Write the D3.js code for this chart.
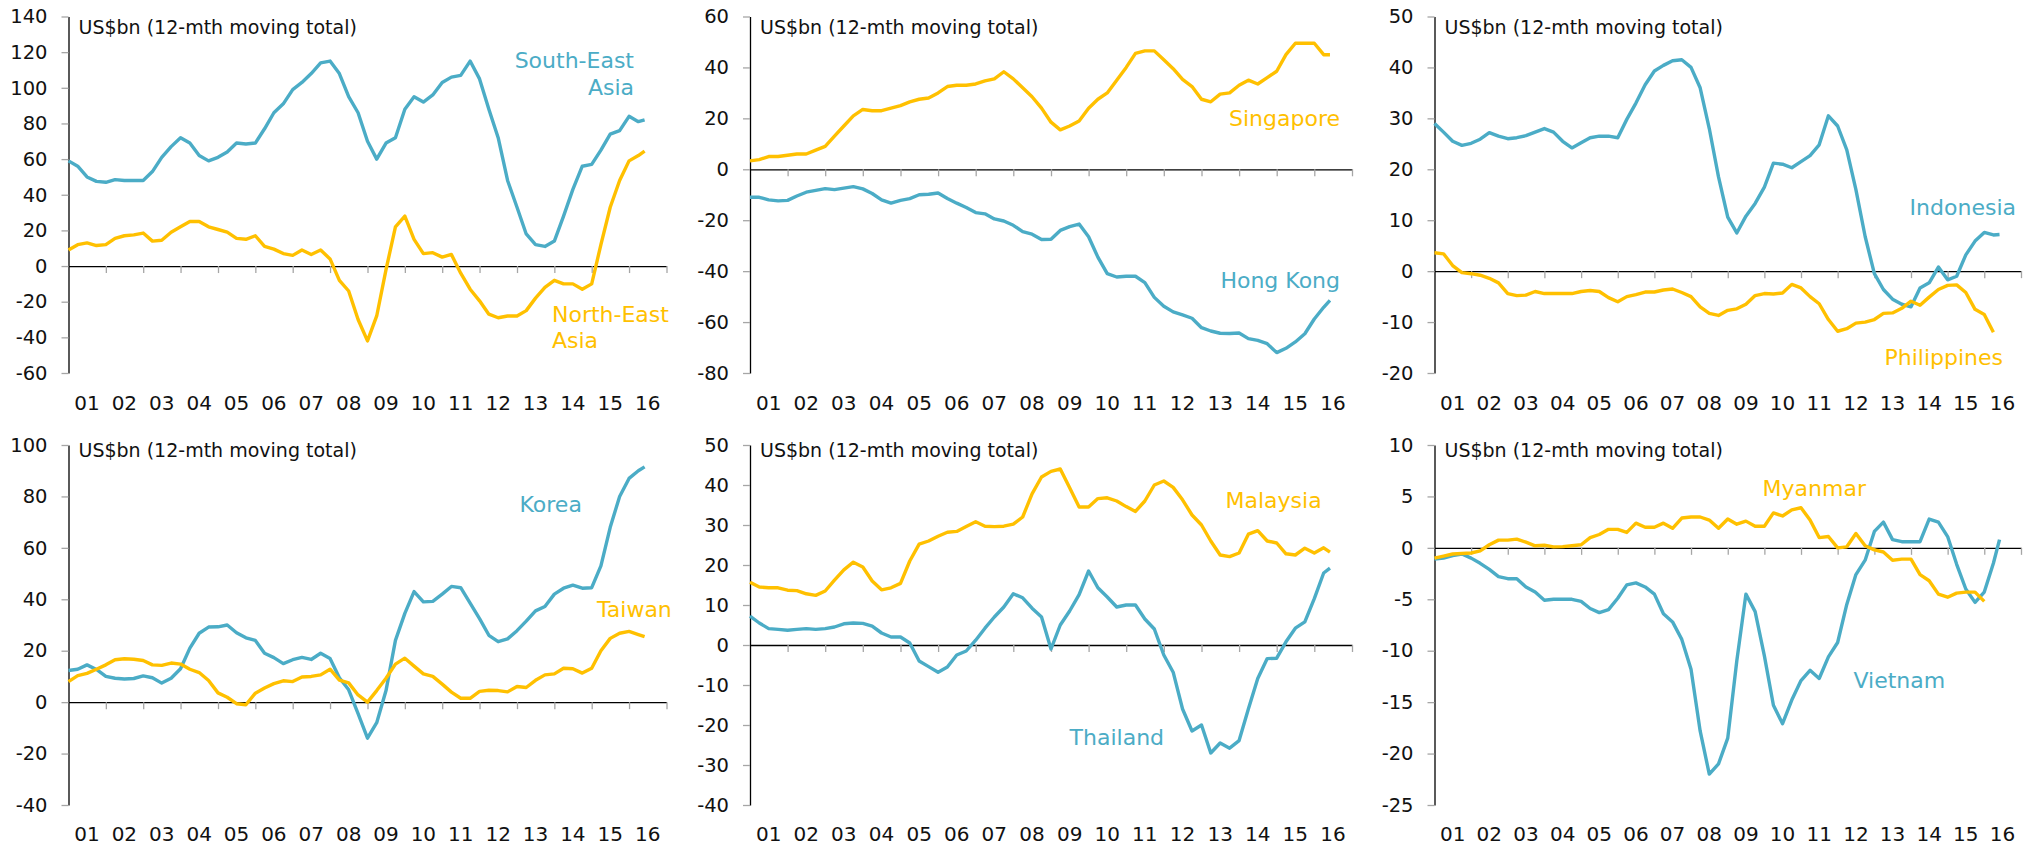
<!DOCTYPE html>
<html>
<head>
<meta charset="utf-8">
<script src="https://d3js.org/d3.v7.min.js"></script>
<style>
  body { margin: 0; background: #fff; }
  svg text { font-family: "DejaVu Sans", sans-serif; }
</style>
</head>
<body>
<svg id="chart" width="2034" height="849"></svg>
<script>
const BLUE = "#4bacc6"
const GOLD = "#ffc000"

// one point every quarter from Jan 2001, last reading June 2016
const dates = d3.timeMonth.every(3).range(new Date(2001, 0, 1), new Date(2016, 4, 1))
dates.push(new Date(2016, 5, 1))

const yearLabels = ["01", "02", "03", "04", "05", "06", "07", "08", "09", "10", "11", "12", "13", "14", "15", "16"]
const unitLabel = "US$bn (12-mth moving total)"

// US$bn, 12-month moving totals
const southEastAsia = [59, 56, 50, 47.5, 47, 48.5, 48, 48, 48, 53, 61, 67, 72, 69, 62, 59, 61, 64, 69, 68.5, 69, 77, 86, 91, 99, 103, 108, 114, 115, 108, 95, 86, 70, 60, 69, 72, 88, 95, 92, 96, 103, 106, 107, 115, 105, 88, 72, 48, 33, 18, 12, 11, 14, 28, 43, 56, 57, 65, 74, 76, 84, 81, 82]
const northEastAsia = [9, 12, 13, 11.5, 12, 15.5, 17, 17.5, 18.5, 14, 14.5, 19, 22, 25, 25, 22, 20.5, 19, 15.5, 15, 17, 11, 9.5, 7, 6, 9, 6.5, 9, 4, -8, -14, -30, -42, -28, -2, 22, 28, 15, 7, 7.5, 5, 6.5, -4, -13, -19.5, -27, -29, -28, -28, -25, -18, -12, -8, -10, -10, -13, -10, 12, 33, 48, 59, 62, 64.5]
const singapore = [3.3, 3.8, 5, 5, 5.5, 6, 6, 7.5, 9, 13, 17, 21, 23.5, 23, 23, 24, 25, 26.5, 27.5, 28, 30, 32.5, 33, 33, 33.5, 34.7, 35.5, 38.3, 35.5, 32, 28.5, 24, 18.5, 15.5, 17, 19, 24, 27.5, 30, 35, 40, 45.5, 46.5, 46.5, 43, 39.5, 35.3, 32.5, 27.5, 26.5, 29.5, 30, 33, 35, 33.5, 36, 38.5, 45, 49.5, 49.5, 49.5, 45, 45]
const hongKong = [-11, -11, -12, -12.4, -12.2, -10.5, -9, -8.3, -7.6, -8, -7.4, -6.8, -7.7, -9.5, -12, -13.3, -12.2, -11.5, -10, -9.8, -9.3, -11.5, -13.3, -15, -17, -17.5, -19.5, -20.3, -22, -24.5, -25.5, -27.6, -27.5, -24, -22.5, -21.5, -26.5, -34.5, -41, -42.3, -42, -42, -44.5, -50.3, -53.8, -56, -57.2, -58.5, -62.2, -63.5, -64.4, -64.5, -64.3, -66.5, -67.2, -68.5, -72, -70.3, -67.8, -64.6, -58.8, -54.2, -51.5]
const indonesia = [29, 27.3, 25.5, 24.7, 25.1, 25.9, 27.2, 26.5, 26, 26.2, 26.6, 27.3, 28, 27.3, 25.5, 24.2, 25.2, 26.2, 26.5, 26.5, 26.2, 29.8, 33, 36.6, 39.3, 40.4, 41.3, 41.5, 40, 36, 28, 18.5, 10.6, 7.5, 10.8, 13.3, 16.5, 21.2, 21, 20.3, 21.5, 22.7, 24.8, 30.5, 28.5, 23.8, 16, 6.8, -0.5, -3.6, -5.5, -6.5, -7, -3.3, -2.3, 0.8, -1.7, -1, 3.2, 5.9, 7.6, 7.1, 7.2]
const philippines = [3.6, 3.4, 1.1, -0.3, -0.5, -0.8, -1.4, -2.3, -4.4, -4.8, -4.7, -4, -4.4, -4.4, -4.4, -4.4, -4, -3.8, -4, -5.2, -6, -5, -4.6, -4.1, -4.1, -3.7, -3.5, -4.2, -5, -7, -8.3, -8.7, -7.7, -7.4, -6.5, -4.8, -4.4, -4.5, -4.3, -2.6, -3.3, -5, -6.4, -9.5, -11.8, -11.3, -10.2, -10, -9.5, -8.3, -8.2, -7.3, -5.9, -6.7, -5.1, -3.6, -2.8, -2.7, -4.2, -7.5, -8.5, -12, null]
const korea = [12.3, 12.8, 14.5, 12.7, 10, 9.3, 9, 9.2, 10.2, 9.5, 7.4, 9.3, 13, 21, 26.8, 29.2, 29.3, 30, 27, 25, 24, 19, 17.3, 15, 16.5, 17.4, 16.6, 19, 17, 9.5, 4.8, -4.5, -14, -8, 4.5, 24, 34.5, 43, 39, 39.2, 42, 45, 44.5, 38.5, 32.5, 26, 23.5, 24.6, 27.8, 31.5, 35.5, 37.2, 42, 44.3, 45.5, 44.3, 44.5, 53, 68, 80, 87, 90, 91.5]
const taiwan = [8, 10.3, 11.2, 12.8, 14.5, 16.5, 16.9, 16.7, 16.2, 14.5, 14.3, 15.2, 14.8, 12.8, 11.5, 8.4, 3.6, 1.9, -0.6, -1, 3.5, 5.5, 7.2, 8.3, 8, 9.8, 10, 10.6, 12.8, 8.6, 7.5, 2.8, 0, 4.5, 9.3, 14.8, 17.1, 14, 11, 10, 7, 3.9, 1.5, 1.5, 4.2, 4.6, 4.5, 4, 6.1, 5.7, 8.5, 10.6, 11, 13.2, 13, 11.3, 13.2, 20, 24.8, 26.8, 27.5, 26.3, 25.5]
const malaysia = [15.7, 14.5, 14.3, 14.3, 13.7, 13.6, 12.8, 12.4, 13.5, 16.2, 18.8, 20.7, 19.5, 16, 13.8, 14.3, 15.4, 21, 25.2, 26, 27.2, 28.2, 28.4, 29.6, 30.8, 29.7, 29.6, 29.7, 30.2, 32, 37.8, 42, 43.4, 44, 39.3, 34.5, 34.5, 36.6, 36.8, 36, 34.6, 33.4, 36, 40, 41, 39.4, 36.3, 32.5, 30, 26, 22.5, 22.1, 23, 27.7, 28.6, 26, 25.5, 22.8, 22.5, 24.2, 23, 24.3, 23.2]
const thailand = [7.2, 5.5, 4.1, 3.9, 3.7, 3.9, 4.1, 3.9, 4.1, 4.5, 5.3, 5.5, 5.4, 4.7, 3, 2, 2, 0.5, -4, -5.4, -6.8, -5.5, -2.5, -1.5, 1.2, 4.2, 7, 9.5, 12.8, 11.8, 9.2, 7, -1, 5, 8.5, 12.6, 18.5, 14.3, 12, 9.5, 10, 10, 6.5, 4, -2.5, -6.8, -16, -21.5, -20, -27, -24.5, -25.8, -23.9, -16, -8.4, -3.4, -3.3, 0.8, 4.2, 5.8, 11.6, 18, 19.2]
const myanmar = [-1, -0.8, -0.6, -0.55, -0.5, -0.3, 0.3, 0.75, 0.75, 0.85, 0.55, 0.2, 0.25, 0.1, 0.12, 0.2, 0.3, 1, 1.3, 1.8, 1.8, 1.5, 2.4, 2, 2, 2.4, 1.9, 2.9, 3, 3, 2.7, 1.9, 2.8, 2.3, 2.6, 2.1, 2.1, 3.4, 3.1, 3.7, 3.9, 2.7, 1, 1.1, 0, 0.1, 1.4, 0.2, -0.2, -0.4, -1.2, -1.1, -1.1, -2.6, -3.2, -4.5, -4.8, -4.4, -4.3, -4.3, -5.2, null, null]
const vietnam = [-1.1, -1, -0.75, -0.6, -1, -1.5, -2.1, -2.8, -3, -3, -3.8, -4.3, -5.1, -5, -5, -5, -5.2, -5.9, -6.3, -6, -4.9, -3.6, -3.4, -3.8, -4.5, -6.4, -7.2, -8.9, -11.8, -17.8, -22, -21, -18.5, -11, -4.5, -6.2, -10.5, -15.3, -17.1, -14.8, -12.9, -11.9, -12.7, -10.6, -9.2, -5.5, -2.6, -1.2, 1.6, 2.5, 0.8, 0.6, 0.6, 0.6, 2.8, 2.5, 1.1, -1.6, -4, -5.3, -4.3, -1.5, 0.8]

// y ticks per panel
const ticks1 = [140, 120, 100, 80, 60, 40, 20, 0, -20, -40, -60]
const ticks2 = [60, 40, 20, 0, -20, -40, -60, -80]
const ticks3 = [50, 40, 30, 20, 10, 0, -10, -20]
const ticks4 = [100, 80, 60, 40, 20, 0, -20, -40]
const ticks5 = [50, 40, 30, 20, 10, 0, -10, -20, -30, -40]
const ticks6 = [10, 5, 0, -5, -10, -15, -20, -25]

const ROWS = [
  { top: 16.5, bottom: 373, labelY: 410, titleY: 33.5 },
  { top: 445, bottom: 805, labelY: 841, titleY: 457 }
]
const COLS = [[68.5, 666.5], [750, 1352], [1434.5, 2021]]

const panels = [
  { row: 0, col: 0, ticks: ticks1,
    series: [[southEastAsia, BLUE], [northEastAsia, GOLD]],
    names: [["South-East", 634, 68, "end", BLUE], ["Asia", 634, 95, "end", BLUE],
            ["North-East", 552, 322, "start", GOLD], ["Asia", 552, 348, "start", GOLD]] },
  { row: 0, col: 1, ticks: ticks2,
    series: [[hongKong, BLUE], [singapore, GOLD]],
    names: [["Singapore", 1340, 126, "end", GOLD], ["Hong Kong", 1340, 288, "end", BLUE]] },
  { row: 0, col: 2, ticks: ticks3,
    series: [[indonesia, BLUE], [philippines, GOLD]],
    names: [["Indonesia", 2016, 215, "end", BLUE], ["Philippines", 2003, 365, "end", GOLD]] },
  { row: 1, col: 0, ticks: ticks4,
    series: [[korea, BLUE], [taiwan, GOLD]],
    names: [["Korea", 519.5, 512, "start", BLUE], ["Taiwan", 597, 617, "start", GOLD]] },
  { row: 1, col: 1, ticks: ticks5,
    series: [[thailand, BLUE], [malaysia, GOLD]],
    names: [["Malaysia", 1225.5, 508, "start", GOLD], ["Thailand", 1069.6, 745, "start", BLUE]] },
  { row: 1, col: 2, ticks: ticks6,
    series: [[vietnam, BLUE], [myanmar, GOLD]],
    names: [["Myanmar", 1762.6, 496, "start", GOLD], ["Vietnam", 1853.5, 688, "start", BLUE]] }
]

const svg = d3.select("#chart")

panels.forEach(p => {
  const row = ROWS[p.row]
  const [x0, x1] = COLS[p.col]
  const g = svg.append("g")

  const x = d3.scaleTime()
    .domain([new Date(2001, 0, 1), new Date(2017, 0, 1)])
    .range([x0, x1])
  const y = d3.scaleLinear()
    .domain(d3.extent(p.ticks))
    .range([row.bottom, row.top])

  // y axis, plain hyphen for negatives like the original
  const yAxis = g.append("g")
    .attr("transform", `translate(${x0},0)`)
    .call(d3.axisLeft(y).tickValues(p.ticks).tickFormat(d => String(d))
      .tickSize(7).tickSizeOuter(0).tickPadding(14))
  yAxis.select(".domain").attr("stroke", "#000").attr("stroke-width", 1.3)
  yAxis.selectAll(".tick line").attr("stroke", "#a6a6a6").attr("stroke-width", 1.3)
  yAxis.selectAll(".tick text")
    .attr("font-size", 19.5).attr("font-family", "DejaVu Sans").attr("fill", "#111")

  // zero line with year separators
  const xAxis = g.append("g")
    .attr("transform", `translate(0,${y(0)})`)
    .call(d3.axisBottom(x)
      .tickValues(d3.timeYear.range(new Date(2002, 0, 1), new Date(2017, 0, 2)))
      .tickSize(7).tickSizeOuter(0).tickFormat(""))
  xAxis.select(".domain").attr("stroke", "#000").attr("stroke-width", 1.3)
  xAxis.selectAll(".tick line").attr("stroke", "#a6a6a6").attr("stroke-width", 1.3)

  // year labels centred in each year
  g.selectAll(".year")
    .data(yearLabels)
    .join("text")
      .attr("x", (d, i) => x(new Date(2001 + i, 6, 1)))
      .attr("y", row.labelY)
      .attr("text-anchor", "middle")
      .attr("font-size", 20)
      .attr("fill", "#111")
      .text(d => d)

  g.append("text")
    .attr("x", x0 + 10)
    .attr("y", row.titleY)
    .attr("font-size", 19)
    .attr("fill", "#111")
    .text(unitLabel)

  const line = d3.line()
    .defined(d => d != null)
    .x((d, i) => x(dates[i]))
    .y(d => y(d))

  p.series.forEach(([values, color]) => {
    g.append("path")
      .datum(values)
      .attr("fill", "none")
      .attr("stroke", color)
      .attr("stroke-width", 3.4)
      .attr("stroke-linejoin", "round")
      .attr("d", line)
  })

  p.names.forEach(([text, tx, ty, anchor, color]) => {
    g.append("text")
      .attr("x", tx).attr("y", ty)
      .attr("text-anchor", anchor)
      .attr("font-size", 22)
      .attr("fill", color)
      .text(text)
  })
})
</script>
</body>
</html>
